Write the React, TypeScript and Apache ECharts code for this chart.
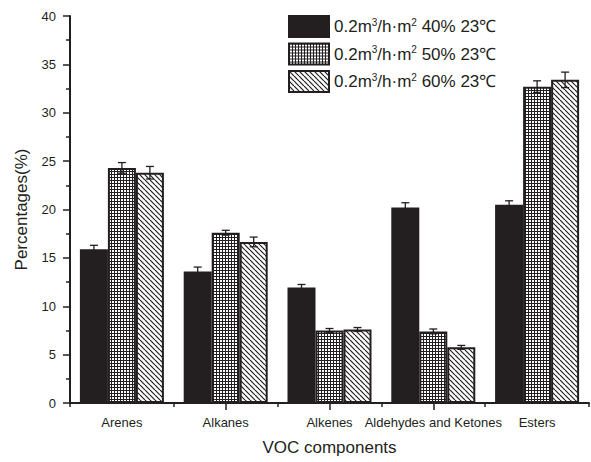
import React, { useEffect, useRef } from 'react';
import * as echarts from 'echarts';

const categories = ['Arenes', 'Alkanes', 'Alkenes', 'Aldehydes and Ketones', 'Esters'];
const humidity = ['40%', '50%', '60%'];
const seriesNames = ['0.2m3/h·m2 40% 23℃', '0.2m3/h·m2 50% 23℃', '0.2m3/h·m2 60% 23℃'];
const values40 = [15.9, 13.6, 11.95, 20.2, 20.5];
const values50 = [24.3, 17.6, 7.5, 7.4, 32.7];
const values60 = [23.8, 16.65, 7.6, 5.75, 33.4];
const err40 = [0.4, 0.45, 0.3, 0.5, 0.4];
const err50 = [0.55, 0.25, 0.2, 0.25, 0.6];
const err60 = [0.65, 0.5, 0.2, 0.2, 0.8];
const yMin = 0;
const yMax = 40;
const yInterval = 5;

const INK = '#231f20';
const FONT = '"Liberation Sans", Arial, sans-serif';

function makeGrid() {
  const c = document.createElement('canvas');
  c.width = 3;
  c.height = 3;
  const g = c.getContext('2d')!;
  g.fillStyle = '#ffffff';
  g.fillRect(0, 0, 3, 3);
  g.fillStyle = INK;
  g.fillRect(0, 0, 3, 1);
  g.fillRect(0, 0, 1, 3);
  return c;
}

function makeHatch() {
  const s = 5;
  const c = document.createElement('canvas');
  c.width = s;
  c.height = s;
  const g = c.getContext('2d')!;
  g.fillStyle = '#ffffff';
  g.fillRect(0, 0, s, s);
  g.strokeStyle = INK;
  g.lineWidth = 1.2;
  for (const k of [-s, 0, s]) {
    g.beginPath();
    g.moveTo(k, 0);
    g.lineTo(k + s, s);
    g.stroke();
  }
  return c;
}

export default function App() {
  const ref = useRef<HTMLDivElement>(null);
  useEffect(() => {
    if (!ref.current) return;
    const chart = echarts.init(ref.current, null, { renderer: 'svg' });
    const values = [values40, values50, values60];
    const errs = [err40, err50, err60];
    const fills: any[] = [
      INK,
      { image: makeGrid(), repeat: 'repeat' },
      { image: makeHatch(), repeat: 'repeat' },
    ];
    const barW = 28;
    const bars = values.map((vals, s) => ({
      type: 'bar',
      name: seriesNames[s],
      xAxisIndex: 0,
      data: vals,
      barWidth: barW,
      barGap: '0%',
      itemStyle: { color: fills[s], borderColor: INK, borderWidth: 2 },
      z: 2,
    }));
    const errSeries = values.map((vals, s) => ({
      type: 'custom',
      name: 'err' + s,
      xAxisIndex: 0,
      data: vals.map((v, i) => [i, v, errs[s][i]]),
      encode: { x: 0, y: 1 },
      z: 5,
      renderItem: (params: any, api: any) => {
        const i = api.value(0);
        const v = api.value(1);
        const e = api.value(2);
        const x = api.coord([i, v])[0] + (s - 1) * barW;
        const yt = api.coord([i, v + e])[1];
        const yb = api.coord([i, v - e])[1];
        const st = { stroke: INK, lineWidth: 1.3 };
        const hw = 4;
        return {
          type: 'group',
          children: [
            { type: 'line', shape: { x1: x, y1: yt, x2: x, y2: yb }, style: st },
            { type: 'line', shape: { x1: x - hw, y1: yt, x2: x + hw, y2: yt }, style: st },
            { type: 'line', shape: { x1: x - hw, y1: yb, x2: x + hw, y2: yb }, style: st },
          ],
        };
      },
    }));
    chart.setOption({
      animation: false,
      backgroundColor: '#ffffff',
      grid: { left: 70, right: 2, top: 16, bottom: 59, containLabel: false },
      legend: {
        data: seriesNames.map((n) => ({ name: n, icon: 'rect' })),
        orient: 'vertical',
        left: 283,
        top: 10,
        itemWidth: 40,
        itemHeight: 21,
        itemGap: 4.5,
        formatter: (name: string) => {
          const idx = seriesNames.indexOf(name);
          return `0.2m{sup|3}/h·m{sup|2} ${humidity[idx]} 23℃`;
        },
        textStyle: {
          fontFamily: FONT,
          fontSize: 17,
          lineHeight: 19,
          color: INK,
          rich: {
            sup: { fontFamily: FONT, fontSize: 10, color: INK, verticalAlign: 'top', lineHeight: 19 },
          },
        },
      },
      xAxis: [
        {
          type: 'category',
          data: categories,
          position: 'bottom',
          name: 'VOC components',
          nameLocation: 'middle',
          nameGap: 36,
          nameTextStyle: { fontFamily: FONT, fontSize: 17, color: INK },
          axisLine: { show: true, lineStyle: { color: INK, width: 2 } },
          axisTick: { show: true, alignWithLabel: false, length: 4, lineStyle: { color: INK, width: 1.5 } },
          axisLabel: { interval: 0, margin: 13, fontFamily: FONT, fontSize: 13, color: INK },
        },
        {
          type: 'category',
          data: categories,
          position: 'bottom',
          axisLine: { show: false },
          axisTick: {
            show: true,
            alignWithLabel: true,
            length: 7,
            interval: (index: number) => index >= 1 && index <= 3,
            lineStyle: { color: INK, width: 1.5 },
          },
          axisLabel: { show: false },
        },
      ],
      yAxis: {
        type: 'value',
        min: yMin,
        max: yMax,
        interval: yInterval,
        name: 'Percentages(%)',
        nameLocation: 'middle',
        nameGap: 40,
        nameTextStyle: { fontFamily: FONT, fontSize: 17, color: INK },
        axisLine: { show: true, lineStyle: { color: INK, width: 2 } },
        axisTick: { show: true, length: 7, lineStyle: { color: INK, width: 1.5 } },
        minorTick: { show: true, splitNumber: 2, length: 4, lineStyle: { color: INK, width: 1.5 } },
        splitLine: { show: false },
        axisLabel: { margin: 14, fontFamily: FONT, fontSize: 13, color: INK },
      },
      series: [...bars, ...errSeries],
    });
    return () => chart.dispose();
  }, []);
  return (
    <div
      ref={ref}
      style={{ position: 'fixed', left: 0, top: 0, width: 591, height: 462, background: '#fff' }}
    />
  );
}
